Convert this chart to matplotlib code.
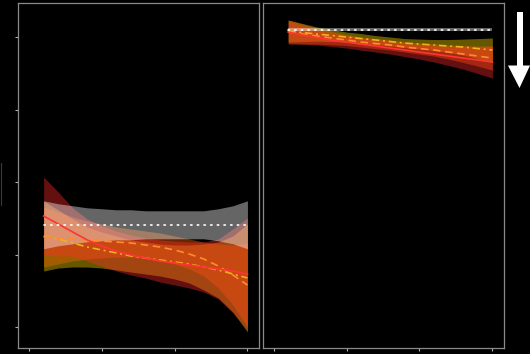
import numpy as np
import matplotlib
matplotlib.use("Agg")
import matplotlib.pyplot as plt
from matplotlib.patches import Polygon
from matplotlib.lines import Line2D

# shared x positions
x = list(range(1, 16))

# ---- left panel ----
left_base = [1.41] * 15
left_base_hw = [0.331, 0.290, 0.262, 0.234, 0.221, 0.207, 0.207, 0.193, 0.193,
                0.193, 0.193, 0.193, 0.221, 0.262, 0.331]
left_red = [1.531, 1.421, 1.310, 1.200, 1.117, 1.048, 0.993, 0.952, 0.910,
            0.883, 0.855, 0.828, 0.800, 0.772, 0.731]
left_red_hw = [0.538, 0.441, 0.331, 0.290, 0.276, 0.276, 0.276, 0.276, 0.290,
               0.303, 0.317, 0.345, 0.414, 0.579, 0.772]
left_orange = [1.241, 1.228, 1.214, 1.200, 1.186, 1.172, 1.159, 1.131, 1.103,
               1.062, 1.007, 0.938, 0.841, 0.717, 0.579]
left_orange_hw = [0.414, 0.359, 0.303, 0.262, 0.234, 0.207, 0.193, 0.193, 0.193,
                  0.193, 0.207, 0.234, 0.303, 0.414, 0.579]
left_yellow = [1.255, 1.214, 1.159, 1.103, 1.062, 1.021, 0.979, 0.952, 0.924,
               0.897, 0.869, 0.828, 0.786, 0.731, 0.676]
left_yellow_hw = [0.483, 0.400, 0.331, 0.276, 0.248, 0.234, 0.221, 0.221, 0.221,
                  0.234, 0.262, 0.317, 0.386, 0.524, 0.745]

# ---- right panel ----
right_base = [4.10] * 15
right_base_hw = [0.02] * 15
right_red = [4.069, 4.028, 3.993, 3.959, 3.931, 3.903, 3.876, 3.848, 3.821,
             3.793, 3.766, 3.738, 3.710, 3.683, 3.655]
right_red_hw = [0.152, 0.124, 0.103, 0.090, 0.083, 0.083, 0.083, 0.083, 0.090,
                0.097, 0.110, 0.131, 0.152, 0.186, 0.221]
right_orange = [4.069, 4.041, 4.014, 3.986, 3.959, 3.931, 3.910, 3.890, 3.862,
                3.841, 3.821, 3.793, 3.766, 3.738, 3.710]
right_orange_hw = [0.166, 0.138, 0.110, 0.090, 0.076, 0.069, 0.069, 0.069, 0.069,
                   0.076, 0.083, 0.097, 0.117, 0.138, 0.166]
right_yellow = [4.083, 4.062, 4.041, 4.021, 4.000, 3.979, 3.959, 3.938, 3.917,
                3.903, 3.890, 3.876, 3.862, 3.841, 3.821]
right_yellow_hw = [0.152, 0.124, 0.097, 0.083, 0.069, 0.069, 0.062, 0.062, 0.062,
                   0.069, 0.076, 0.090, 0.110, 0.138, 0.166]

x_ticks = [0, 5, 10, 15]
y_ticks = [0, 1, 2, 3, 4]

BAND_COLORS = {"yellow": "#ffdc00", "orange": "#ff6400", "red": "#ff2a2a", "white": "#ffffff"}
LINE_COLORS = {"red": "#ff3535", "orange": "#ff8c30", "yellow": "#f0b020", "white": "#ffffff"}

fig = plt.figure(figsize=(5.30, 3.54), dpi=100, facecolor="black")
ax_l = fig.add_axes([18 / 530, 6 / 354, 240.5 / 530, 345 / 354])
ax_r = fig.add_axes([262.5 / 530, 6 / 354, 241 / 530, 345 / 354])


def draw_panel(ax, series):
    xa = np.array(x, dtype=float)
    # confidence bands
    for key, mid, hw in series:
        m = np.array(mid)
        h = np.array(hw)
        ax.fill_between(xa, m - h, m + h, color=BAND_COLORS[key], alpha=0.4,
                        lw=0, zorder=1)
    # fitted lines
    for key, mid, hw in series:
        c = LINE_COLORS[key]
        if key == "red":
            ax.plot(xa, mid, color=c, lw=1.2, ls="-", zorder=3)
        elif key == "orange":
            ax.plot(xa, mid, color=c, lw=1.2, ls=(0, (4.5, 2.8)), zorder=3)
        elif key == "yellow":
            ax.plot(xa, mid, color=c, lw=1.2, ls=(0, (4.5, 2.2, 1.2, 2.2)), zorder=3)
        else:
            ax.plot(xa, mid, color=c, lw=1.2, ls=(0, (0.8, 3.2)),
                    dash_capstyle="round", zorder=4)

    ax.set_facecolor("black")
    ax.set_xlim(-0.76, 15.76)
    ax.set_ylim(-0.29, 4.47)
    ax.set_xticks(x_ticks)
    ax.set_xticklabels([])
    for sp in ax.spines.values():
        sp.set_color("#8a8a8a")
        sp.set_linewidth(0.9)
    ax.tick_params(colors="#b0b0b0", length=2, width=0.8, direction="out")


draw_panel(ax_l, [
    ("yellow", left_yellow, left_yellow_hw),
    ("orange", left_orange, left_orange_hw),
    ("red", left_red, left_red_hw),
    ("white", left_base, left_base_hw),
])
draw_panel(ax_r, [
    ("yellow", right_yellow, right_yellow_hw),
    ("orange", right_orange, right_orange_hw),
    ("red", right_red, right_red_hw),
    ("white", right_base, right_base_hw),
])

ax_l.set_yticks(y_ticks)
ax_l.set_yticklabels([])
ax_r.set_yticks([])

# "lower is better" arrow at the right edge
W, H = 530.0, 354.0
shaft = [(516.5, 12), (523, 12), (523, 66), (516.5, 66)]
head = [(508, 65.5), (530, 65.5), (519.5, 88)]
for pts in (shaft, head):
    fig.add_artist(Polygon([(px / W, 1 - py / H) for px, py in pts],
                           closed=True, transform=fig.transFigure,
                           facecolor="white", edgecolor="none"))

# faint edge mark at the far left
fig.add_artist(Line2D([0.8 / W, 0.8 / W], [1 - 163 / H, 1 - 205 / H],
                      transform=fig.transFigure, color="#3a3a3a", lw=0.8))

fig.savefig("out.png", dpi=100, facecolor="black")
